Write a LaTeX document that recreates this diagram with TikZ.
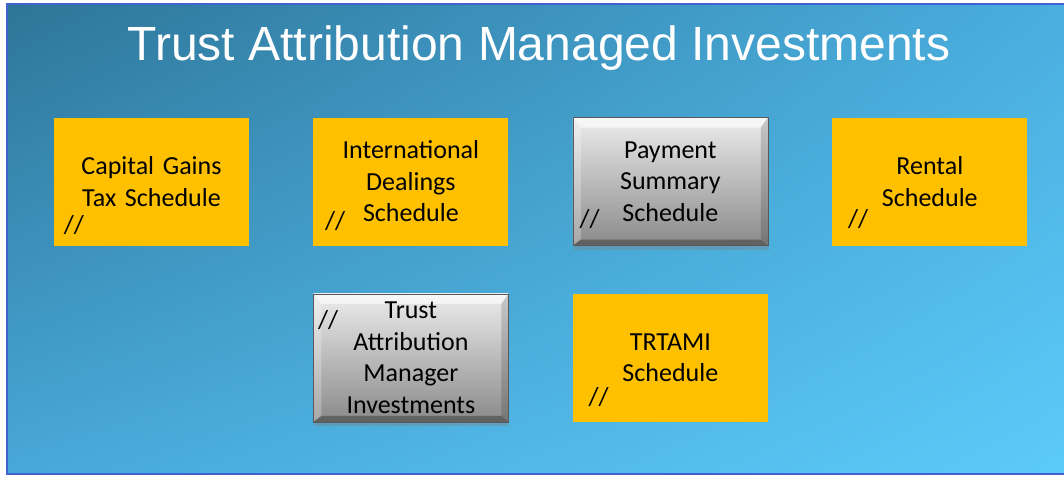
\documentclass[tikz,border=0pt]{standalone}
\usepackage{fontspec}
\setmainfont{Carlito}
\newfontfamily\titlefont{Liberation Sans}
\usetikzlibrary{positioning,shadows,shadings}
\definecolor{bgdark}{HTML}{2E7598}
\definecolor{bgmidA}{HTML}{4AAEDF}
\definecolor{bgmidB}{HTML}{48A8D8}
\definecolor{bglight}{HTML}{5BCBF9}
\definecolor{frameblue}{HTML}{4262D2}
\definecolor{amber}{HTML}{FFC000}

% bevelled edges of a grey box
\newcommand{\bevelbox}[1]{
  \fill[white,opacity=0.6] (#1.north west) -- (#1.north east) -- ([shift={(-7,10)}]#1.north east)
    -- ([shift={(8,10)}]#1.north west) -- cycle;
  \fill[white,opacity=0.25] (#1.north west) -- ([shift={(8,10)}]#1.north west)
    -- ([shift={(8,-6)}]#1.south west) -- (#1.south west) -- cycle;
  \fill[black,opacity=0.15] (#1.north east) -- ([shift={(-7,10)}]#1.north east)
    -- ([shift={(-7,-6)}]#1.south east) -- (#1.south east) -- cycle;
  \fill[black,opacity=0.3] (#1.south west) -- ([shift={(8,-6)}]#1.south west)
    -- ([shift={(-7,-6)}]#1.south east) -- (#1.south east) -- cycle;
}

\begin{document}
\begin{tikzpicture}[x=1pt,y=-1pt,
  box/.style={rectangle,minimum width=195pt,minimum height=128pt,inner sep=0pt,
    text width=185pt,align=center,font=\fontsize{26}{31.5}\selectfont},
  yellow box/.style={box,fill=amber},
  grey box/.style={box,draw=gray!70!black,line width=0.5pt,top color=gray!15,bottom color=gray!92,
    path picture={\bevelbox{path picture bounding box}},
    drop shadow={shadow xshift=1pt,shadow yshift=-4pt,opacity=0.35}},
  slash mark/.style={font=\fontsize{26}{26}\selectfont,inner sep=0pt}]

  % background
  \useasboundingbox (0,0) rectangle (1064,476);
  \shade[upper left=bgdark,upper right=bgmidA,lower left=bgmidB,lower right=bglight]
    (7,4) rectangle (1064,474);
  \draw[frameblue,line width=1.5pt] (1064,4) -- (7,4) -- (7,474) -- (1064,474);

  \node[anchor=base,text=white,font=\titlefont\fontsize{48}{48}\selectfont] (title) at (539,61)
    {Trust Attribution Managed Investments};

  % first row
  \node[yellow box] (cgt) at (151.5,181.5) {Capital Gains\\Tax Schedule};
  \node[yellow box] (intl) [right=64pt of cgt] {International\\Dealings\\Schedule};
  \node[grey box] (pay) [right=64pt of intl] {Payment\\Summary\\Schedule};
  \node[yellow box] (rent) [right=64pt of pay] {Rental\\Schedule};

  % second row
  \node[grey box] (tami) [below=48pt of intl] {Trust\\Attribution\\Manager\\Investments};
  \node[yellow box] (trtami) [below=48pt of pay] {TRTAMI\\Schedule};

  % the // marks
  \node[slash mark] at ([shift={(20,-21)}]cgt.south west) {//};
  \node[slash mark] at ([shift={(22,-25)}]intl.south west) {//};
  \node[slash mark] at ([shift={(17,-27)}]pay.south west) {//};
  \node[slash mark] at ([shift={(26,-27)}]rent.south west) {//};
  \node[slash mark] at ([shift={(15,26)}]tami.north west) {//};
  \node[slash mark] at ([shift={(26,-25)}]trtami.south west) {//};
\end{tikzpicture}
\end{document}
